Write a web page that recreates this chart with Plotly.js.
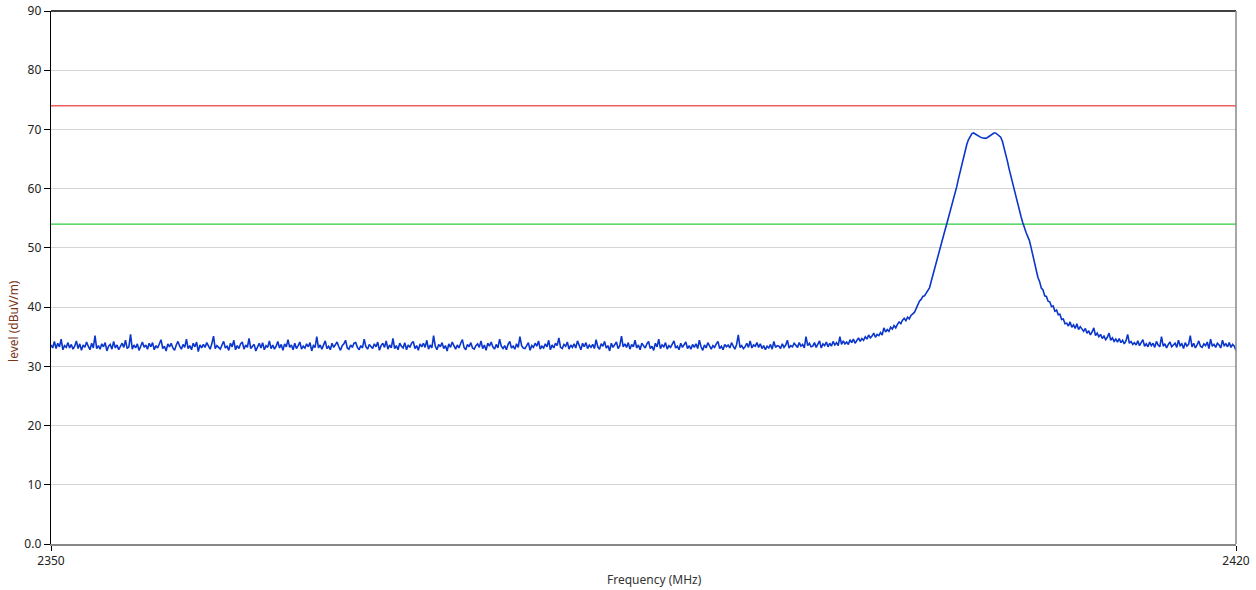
<!DOCTYPE html>
<html>
<head>
<meta charset="utf-8">
<script src="https://cdn.plot.ly/plotly-3.0.1.min.js"></script>
<style>html,body{margin:0;padding:0;background:#fff;}#chart{width:1256px;height:590px;}</style>
</head>
<body>
<div id="chart"></div>
<script>
// Sweep: 2350.0 .. 2420.0 MHz, 0.1 MHz per sample
var freqStart = 2350.0;
var freqStep = 0.1;

// Measured level (dBuV/m), one row per MHz (10 samples each)
var level = [
33.6,33.1,34.2,33.0,33.9,33.3,34.6,32.8,33.5,33.2,
34.0,33.1,33.7,32.9,33.4,34.3,33.0,33.8,32.7,33.6,
33.2,34.1,33.4,32.8,33.9,33.1,35.2,33.0,33.5,32.9,
33.8,33.3,34.0,32.6,33.4,33.7,32.9,34.2,33.1,33.6,
32.8,33.5,33.9,33.2,34.4,33.0,33.3,35.4,32.9,33.6,
33.1,33.8,32.7,33.4,34.1,33.2,33.6,32.9,33.9,33.3,
34.0,32.8,33.5,33.1,33.7,34.5,33.0,33.4,32.6,33.8,
33.3,33.9,33.1,32.7,33.6,34.2,33.4,32.9,33.7,33.2,
34.6,33.0,33.5,32.8,33.9,33.3,34.1,32.5,33.6,33.1,
33.7,33.2,34.0,33.4,32.9,33.8,35.1,33.0,33.5,33.2,
32.9,33.6,34.2,33.1,33.4,32.7,33.9,33.3,34.4,32.8,
33.5,33.0,33.8,34.1,32.9,33.6,33.2,34.7,33.0,33.4,
33.7,32.6,33.3,33.9,33.1,34.0,32.8,33.5,33.2,34.3,
33.0,33.6,32.9,33.4,34.2,33.1,33.7,32.7,33.8,33.3,
34.5,33.2,33.6,32.8,33.9,33.0,33.5,34.1,32.9,33.4,
33.1,33.8,33.3,34.0,32.6,33.5,33.2,35.0,33.1,33.6,
32.9,33.7,34.3,33.0,33.4,32.8,33.9,33.2,33.6,34.1,
33.3,32.7,33.5,33.8,34.4,33.1,32.9,33.6,33.2,33.9,
34.0,33.2,32.8,33.5,33.1,34.6,33.3,32.9,33.7,33.4,
33.0,33.8,33.3,34.1,32.7,33.5,33.9,33.2,34.3,32.9,
33.6,33.1,34.7,33.0,33.5,32.8,33.9,33.4,33.1,34.0,
32.8,33.6,33.2,33.9,34.2,33.0,33.5,32.7,33.8,33.3,
33.9,33.2,34.4,32.9,33.6,33.1,35.2,33.4,32.8,33.7,
33.3,34.0,33.0,33.5,32.6,33.8,33.2,34.1,33.4,32.9,
33.6,33.1,33.9,34.5,33.2,32.8,33.7,33.3,34.0,33.1,
32.9,33.5,33.8,33.2,34.3,33.0,33.6,32.7,33.9,33.4,
34.1,33.3,32.9,33.7,33.1,34.6,33.4,33.0,33.5,32.8,
33.7,34.2,33.1,33.4,32.9,33.8,33.2,35.0,33.5,33.1,
33.0,33.6,34.0,32.7,33.5,33.2,33.9,33.4,34.3,32.9,
33.4,33.1,33.8,33.3,34.4,32.8,33.6,33.1,33.9,33.5,
34.8,33.2,33.0,33.7,33.4,34.1,32.9,33.6,33.2,33.8,
33.1,34.3,33.5,32.8,33.9,33.3,34.0,33.0,33.6,33.2,
33.7,33.0,34.5,33.3,32.9,33.8,33.4,34.2,33.1,33.5,
32.6,33.9,33.2,33.6,34.1,33.0,33.5,35.1,33.3,33.8,
33.2,34.0,32.9,33.7,33.3,34.4,33.1,33.6,32.8,33.9,
33.5,33.1,33.8,34.2,33.0,33.4,32.7,33.9,33.3,34.6,
33.0,33.6,33.3,34.0,32.9,33.5,33.2,33.8,34.3,33.1,
33.4,32.8,33.9,33.2,33.6,34.1,33.0,33.5,32.9,33.7,
33.2,33.8,33.0,34.4,33.3,32.7,33.6,33.1,34.0,33.4,
32.9,33.5,33.2,33.8,34.2,33.0,33.4,32.8,33.7,33.3,
33.6,33.1,34.0,33.4,32.9,33.7,35.3,33.2,33.5,33.0,
33.3,33.9,33.2,34.3,33.1,33.6,33.4,34.0,33.2,33.8,
33.0,33.5,32.8,33.4,33.1,33.7,32.9,34.2,33.2,33.5,
33.4,33.0,33.8,33.2,33.6,34.4,33.1,33.5,33.3,33.9,
33.6,33.2,34.0,33.4,33.7,33.1,35.0,33.5,33.9,33.3,
33.4,34.0,33.2,33.7,34.3,33.1,33.8,33.5,34.1,33.3,
33.9,33.4,34.2,33.6,34.0,33.5,35.0,33.7,34.3,33.8,
34.1,33.7,34.5,34.0,34.6,33.9,34.3,34.8,34.2,34.7,
34.4,35.0,34.6,35.3,34.8,35.1,35.6,34.9,35.4,35.2,
35.7,35.3,36.5,35.8,36.2,35.9,36.6,36.3,36.9,36.5,
37.1,37.5,37.2,37.8,38.1,37.7,38.3,38.0,38.6,38.8,
39.1,39.7,40.4,41.0,41.3,41.8,41.9,42.3,42.7,43.3,
44.4,45.5,46.7,47.8,48.9,50.0,50.9,51.9,52.9,53.9,
54.9,56.0,57.0,58.1,59.2,60.3,61.6,62.8,64.1,65.4,
66.6,67.5,68.3,68.9,69.3,69.4,69.2,69.0,68.9,68.7,
68.6,68.5,68.5,68.6,68.8,69.0,69.2,69.4,69.4,69.2,
69.0,68.7,68.0,67.0,65.9,64.6,63.3,62.1,60.8,59.6,
58.5,57.4,56.4,55.3,54.3,53.3,52.6,51.9,51.2,50.0,
48.6,47.4,46.1,45.0,44.3,43.2,42.9,41.9,41.8,41.0,
40.9,40.1,40.2,39.3,39.5,38.7,38.8,37.9,38.0,37.2,
37.3,36.8,37.5,36.6,37.0,36.4,37.2,36.2,36.7,36.3,
35.9,36.4,35.6,36.0,35.3,35.8,36.5,35.2,35.6,35.0,
35.4,34.7,35.1,34.5,34.9,35.6,34.4,34.8,34.2,34.6,
34.1,34.7,34.0,34.4,33.8,34.3,35.4,33.9,34.2,33.7,
34.0,33.6,34.3,33.5,33.9,34.5,33.4,33.8,33.3,34.1,
33.5,33.9,33.2,34.2,33.6,33.3,35.0,33.4,33.8,33.1,
33.7,34.1,33.3,33.6,33.9,33.2,34.4,33.5,33.8,33.0,
34.0,33.4,33.7,35.2,33.3,33.9,33.1,33.6,34.3,33.4,
33.2,33.8,33.5,34.1,33.0,34.6,33.4,33.7,33.2,33.9,
33.6,33.1,34.4,33.5,33.8,33.3,34.0,33.2,33.7,33.4,
32.7
];

// Limit lines
var limitFreq = [2350, 2420];
var peakLimit = [74, 74];
var avgLimit = [54, 54];

// Axis ticks
var yTickVals = [0, 10, 20, 30, 40, 50, 60, 70, 80, 90];
var yTickText = ["0.0", "10", "20", "30", "40", "50", "60", "70", "80", "90"];
var xTickVals = [2350, 2420];
var xTickText = ["2350", "2420"];

var freq = level.map(function (_, i) { return Math.round((freqStart + i * freqStep) * 10) / 10; });

var traces = [
  { x: limitFreq, y: peakLimit, type: 'scatter', mode: 'lines', line: { color: '#ee5c5c', width: 1.3 }, name: 'Peak limit', hoverinfo: 'skip' },
  { x: limitFreq, y: avgLimit, type: 'scatter', mode: 'lines', line: { color: '#2ecc40', width: 1.3 }, name: 'Average limit', hoverinfo: 'skip' },
  { x: freq, y: level, type: 'scatter', mode: 'lines', line: { color: '#0a36cc', width: 1.6 }, name: 'Level' }
];

var tickFont = { family: 'Noto Sans, sans-serif', size: 12, color: '#222222' };

var layout = {
  width: 1256, height: 590,
  margin: { l: 51, r: 20, t: 11, b: 46, pad: 0 },
  paper_bgcolor: '#ffffff', plot_bgcolor: '#ffffff',
  showlegend: false,
  font: tickFont,
  xaxis: {
    range: [2350, 2420], tickvals: xTickVals, ticktext: xTickText,
    ticks: 'outside', ticklen: 5, tickcolor: '#000000', tickwidth: 1,
    showgrid: false, zeroline: false,
    showline: true, linecolor: '#888888', linewidth: 1.5,
    tickfont: tickFont, fixedrange: true
  },
  yaxis: {
    range: [0, 90], tickvals: yTickVals, ticktext: yTickText,
    ticks: 'outside', ticklen: 6, tickcolor: '#000000', tickwidth: 1,
    showgrid: true, gridcolor: '#d4d4d4', gridwidth: 1,
    zeroline: false, showline: true, linecolor: '#000000', linewidth: 1.3,
    tickfont: tickFont, fixedrange: true
  },
  shapes: [
    { type: 'line', xref: 'paper', yref: 'paper', x0: 0, x1: 1, y0: 1, y1: 1, line: { color: '#000000', width: 1.3 } },
    { type: 'line', xref: 'paper', yref: 'paper', x0: 1, x1: 1, y0: 0, y1: 1, line: { color: '#888888', width: 1.5 } }
  ],
  annotations: [
    { text: 'Frequency (MHz)', xref: 'paper', yref: 'paper', x: 0.5097, y: -0.0657, xanchor: 'center', yanchor: 'middle', showarrow: false, font: { family: 'Noto Sans, sans-serif', size: 12, color: '#333333' } },
    { text: 'level (dBuV/m)', xref: 'paper', yref: 'paper', x: -0.0323, y: 0.418, xanchor: 'center', yanchor: 'middle', textangle: -90, showarrow: false, font: { family: 'Noto Sans, sans-serif', size: 12, color: '#7a3518' } }
  ]
};

Plotly.newPlot('chart', traces, layout, { displayModeBar: false, staticPlot: true });
</script>
</body>
</html>
